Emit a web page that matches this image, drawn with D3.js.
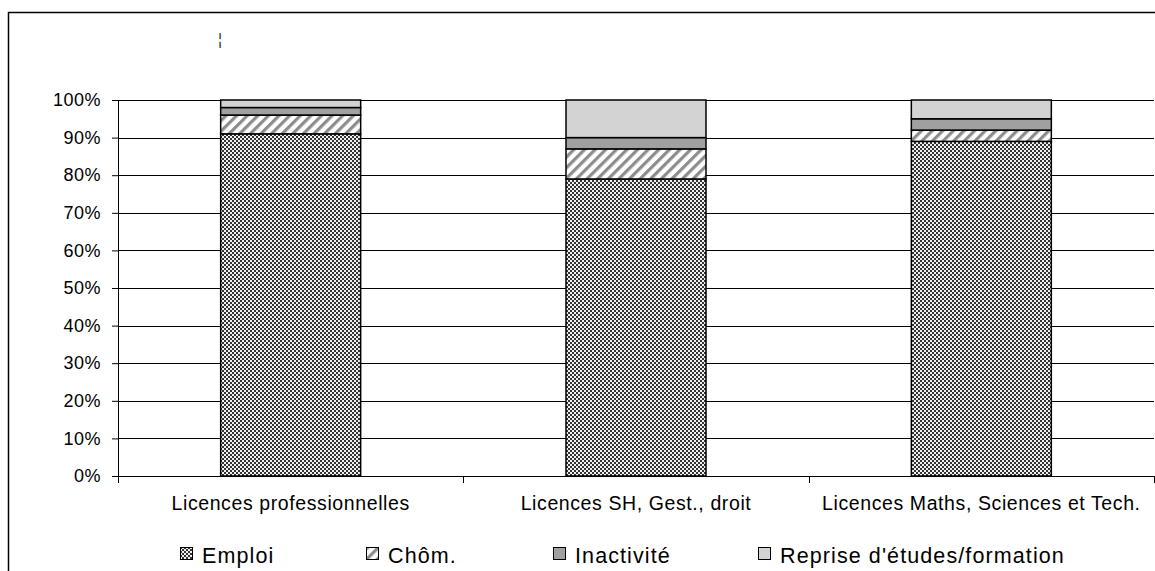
<!DOCTYPE html>
<html>
<head>
<meta charset="utf-8">
<script src="https://cdnjs.cloudflare.com/ajax/libs/d3/7.8.5/d3.min.js"></script>
<style>
  html, body { margin: 0; padding: 0; background: #fff; }
  svg { display: block; font-family: "Liberation Sans", Arial, sans-serif; }
</style>
</head>
<body>
<svg id="chart" width="1155" height="571"></svg>
<script>
// Répartition des situations par type de licence (en %)
const categories = ["Licences professionnelles", "Licences SH, Gest., droit", "Licences Maths, Sciences et Tech."];
const seriesNames = ["Emploi", "Chôm.", "Inactivité", "Reprise d'études/formation"];
const emploi = [91, 79, 89];
const chomage = [5, 8, 3];
const inactivite = [2, 3, 3];
const reprise = [2, 10, 5];
const yTicks = [0, 10, 20, 30, 40, 50, 60, 70, 80, 90, 100];

const svg = d3.select("#chart");
const defs = svg.append("defs");

// Damier pour l'emploi
const chk = defs.append("pattern").attr("id", "pat-emploi")
  .attr("patternUnits", "userSpaceOnUse").attr("width", 4).attr("height", 4);
chk.append("rect").attr("width", 4).attr("height", 4).attr("fill", "#f0f0f0");
chk.append("rect").attr("x", 0).attr("y", 0).attr("width", 2).attr("height", 2).attr("fill", "#333");
chk.append("rect").attr("x", 2).attr("y", 2).attr("width", 2).attr("height", 2).attr("fill", "#333");

// Hachures obliques pour le chômage
const hat = defs.append("pattern").attr("id", "pat-chom")
  .attr("patternUnits", "userSpaceOnUse").attr("width", 7.5).attr("height", 7.5)
  .attr("patternTransform", "rotate(45)");
hat.append("rect").attr("width", 7.5).attr("height", 7.5).attr("fill", "#ffffff");
hat.append("rect").attr("x", 0).attr("y", 0).attr("width", 3.2).attr("height", 7.5).attr("fill", "#8c8c8c");

const fills = ["url(#pat-emploi)", "url(#pat-chom)", "#a0a0a0", "#d3d3d3"];

// Cadre extérieur
svg.append("rect").attr("x", 8.5).attr("y", 12.5).attr("width", 1170).attr("height", 600)
  .attr("fill", "none").attr("stroke", "#000").attr("stroke-width", 1.5);

// Petit repère de titre
svg.append("text").attr("x", 220).attr("y", 45).attr("font-size", 16).attr("fill", "#333")
  .attr("text-anchor", "middle").text("¦");

const plotLeft = 118, plotRight = 1154, plotTop = 100, plotBottom = 476;

const x = d3.scaleBand().domain(categories).range([plotLeft, plotRight]).paddingInner(0).paddingOuter(0);
const y = d3.scaleLinear().domain([0, 100]).range([plotBottom, plotTop]);
const barW = 140;

// Quadrillage
svg.append("g").selectAll("line").data(yTicks.filter(d => d > 0)).join("line")
  .attr("x1", plotLeft).attr("x2", plotRight)
  .attr("y1", d => Math.round(y(d)) + 0.5).attr("y2", d => Math.round(y(d)) + 0.5)
  .attr("stroke", "#000").attr("stroke-width", 1);

// Barres empilées
const rows = categories.map((c, i) => ({ cat: c, "Emploi": emploi[i], "Chôm.": chomage[i], "Inactivité": inactivite[i], "Reprise d'études/formation": reprise[i] }));
const stack = d3.stack().keys(seriesNames)(rows);

const gBars = svg.append("g");
stack.forEach((layer, k) => {
  gBars.selectAll(null).data(layer).join("rect")
    .attr("x", d => x(d.data.cat) + (x.bandwidth() - barW) / 2)
    .attr("y", d => y(d[1]))
    .attr("width", barW)
    .attr("height", d => y(d[0]) - y(d[1]))
    .attr("fill", fills[k])
    .attr("stroke", "#000").attr("stroke-width", 1.5);
});

// Axe des ordonnées
const yAxis = d3.axisLeft(y).tickValues(yTicks).tickFormat(d => d + "%").tickSize(6).tickPadding(11);
const gy = svg.append("g").attr("transform", `translate(${plotLeft},0)`).call(yAxis);
gy.select(".domain").attr("stroke", "#000").attr("d", `M0.5,${plotTop}V${plotBottom}`);
gy.selectAll(".tick line").attr("stroke", "#000");
gy.selectAll(".tick text").attr("font-size", 18).attr("letter-spacing", 0.5).attr("fill", "#000")
  .attr("font-family", "Liberation Sans, Arial, sans-serif");

// Axe des abscisses
const gx = svg.append("g").attr("transform", `translate(0,${plotBottom})`);
gx.append("line").attr("x1", plotLeft - 6).attr("x2", plotRight).attr("y1", 0.5).attr("y2", 0.5).attr("stroke", "#000");
const bounds = [plotLeft, ...categories.map(c => x(c) + x.bandwidth())];
gx.selectAll(".sep").data(bounds).join("line").attr("class", "sep")
  .attr("x1", d => Math.round(d) + 0.5).attr("x2", d => Math.round(d) + 0.5)
  .attr("y1", 0).attr("y2", 7).attr("stroke", "#000");
gx.selectAll(".lab").data(categories).join("text").attr("class", "lab")
  .attr("x", d => x(d) + x.bandwidth() / 2).attr("y", 34)
  .attr("text-anchor", "middle").attr("font-size", 19.5).attr("letter-spacing", 0.6)
  .attr("fill", "#000").text(d => d);

// Légende
const legendPos = [180, 366, 553, 758];
const legend = svg.append("g");
seriesNames.forEach((name, k) => {
  const g = legend.append("g").attr("transform", `translate(${legendPos[k]},547)`);
  g.append("rect").attr("x", 0.5).attr("y", 0.5).attr("width", 12).attr("height", 12)
    .attr("fill", fills[k]).attr("stroke", "#000").attr("stroke-width", 1);
  g.append("text").attr("x", 22).attr("y", 16).attr("font-size", 21.5).attr("letter-spacing", 1.1)
    .attr("fill", "#000").text(name);
});
</script>
</body>
</html>
